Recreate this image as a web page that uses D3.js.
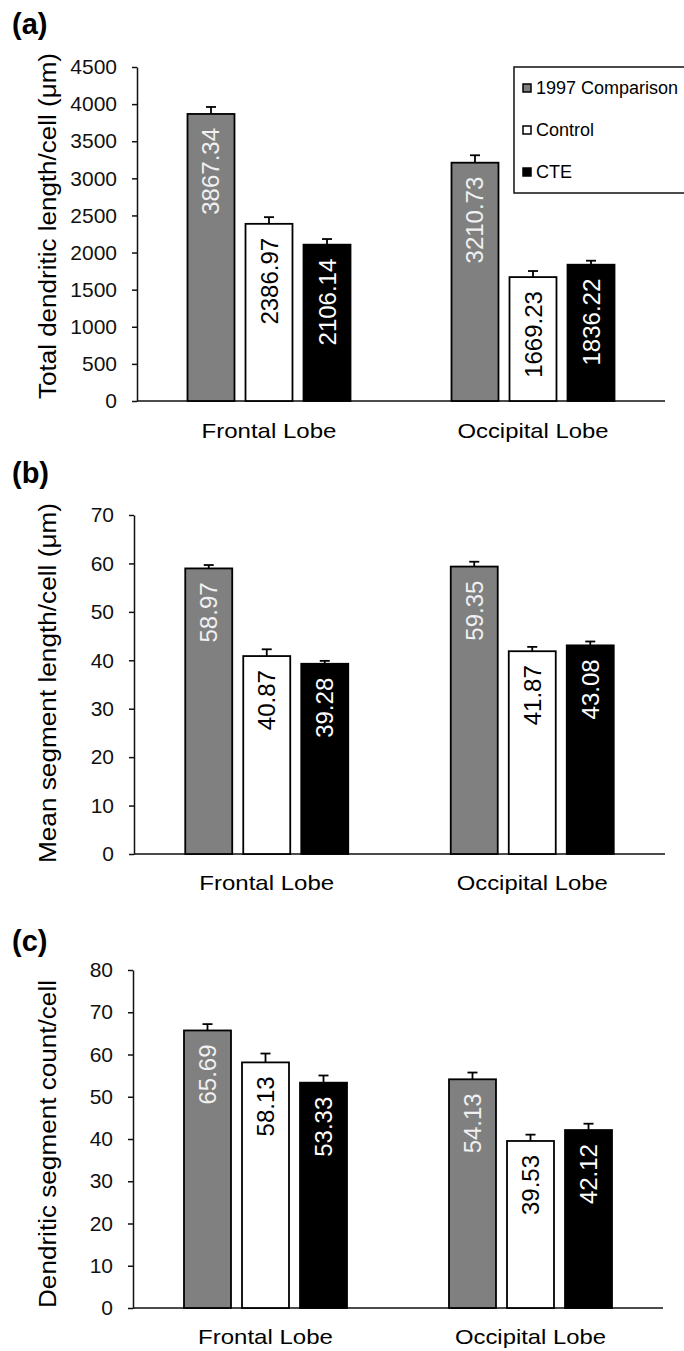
<!DOCTYPE html>
<html>
<head>
<meta charset="utf-8">
<script src="https://cdn.jsdelivr.net/npm/d3@7"></script>
<style>
  body { margin: 0; background: #fff; }
  svg text { font-family: "Liberation Sans", Arial, sans-serif; }
</style>
</head>
<body>
<div id="chart"></div>
<script>
// data
const categories = ["Frontal Lobe", "Occipital Lobe"];
const seriesNames = ["1997 Comparison", "Control", "CTE"];

const totalLength = [[3867.34, 2386.97, 2106.14], [3210.73, 1669.23, 1836.22]];
const totalLengthErr = [[94, 90, 76], [100, 82, 54]];
const meanSegment = [[58.97, 40.87, 39.28], [59.35, 41.87, 43.08]];
const meanSegmentErr = [[0.7, 1.4, 0.6], [1.0, 0.9, 0.8]];
const segmentCount = [[65.69, 58.13, 53.33], [54.13, 39.53, 42.12]];
const segmentCountErr = [[1.5, 2.1, 1.7], [1.6, 1.5, 1.5]];

const ticksA = [0, 500, 1000, 1500, 2000, 2500, 3000, 3500, 4000, 4500];
const ticksB = [0, 10, 20, 30, 40, 50, 60, 70];
const ticksC = [0, 10, 20, 30, 40, 50, 60, 70, 80];

const titles = ["Total dendritic length/cell (\u03bcm)", "Mean segment length/cell (\u03bcm)", "Dendritic segment count/cell"];
const panelLetters = ["(a)", "(b)", "(c)"];

// styles
const fills = ["#808080", "#ffffff", "#000000"];
const labelColors = ["#f0f0f0", "#000000", "#ffffff"];

const width = 684, height = 1351;

const svg = d3.select("#chart").append("svg")
  .attr("width", width)
  .attr("height", height);

// layout for each panel
const panels = [
  { values: totalLength, errs: totalLengthErr, ticks: ticksA, max: 4500,
    left: 137, right: 665, top: 67, bottom: 401, letterY: 34, catY: 438,
    titleLen: 346, titleMid: 226, catLen: [135, 151] },
  { values: meanSegment, errs: meanSegmentErr, ticks: ticksB, max: 70,
    left: 134, right: 665, top: 515, bottom: 854, letterY: 483, catY: 890,
    titleLen: 360, titleMid: 683, catLen: [135, 151] },
  { values: segmentCount, errs: segmentCountErr, ticks: ticksC, max: 80,
    left: 133, right: 663, top: 970, bottom: 1308, letterY: 951, catY: 1344,
    titleLen: 328, titleMid: 1144, catLen: [135, 151] }
];

panels.forEach((p, pi) => {
  const g = svg.append("g");

  const x0 = d3.scaleBand().domain(categories).range([p.left, p.right]);
  const x1 = d3.scaleBand().domain(seriesNames).range([-81.5, 81.5]).paddingInner(0.19);
  const y = d3.scaleLinear().domain([0, p.max]).range([p.bottom, p.top]);

  // panel letter
  g.append("text")
    .attr("x", 12).attr("y", p.letterY)
    .attr("font-size", 29).attr("font-weight", "bold")
    .text(panelLetters[pi]);

  // y axis title
  g.append("text")
    .attr("transform", `translate(56,${p.titleMid}) rotate(-90)`)
    .attr("text-anchor", "middle")
    .attr("font-size", 23)
    .attr("textLength", p.titleLen)
    .attr("lengthAdjust", "spacingAndGlyphs")
    .text(titles[pi]);

  // y axis
  const yAxis = g.append("g")
    .attr("transform", `translate(${p.left},0)`)
    .call(d3.axisLeft(y).tickValues(p.ticks).tickFormat(d3.format("d"))
      .tickSize(5).tickPadding(15).tickSizeOuter(0));
  yAxis.select(".domain").attr("stroke", "#111").attr("stroke-width", 1.5);
  yAxis.selectAll(".tick line").attr("stroke", "#111").attr("stroke-width", 1.5);
  yAxis.selectAll(".tick text")
    .attr("font-size", 21)
    .attr("fill", "#111")
    .attr("font-family", "Liberation Sans, Arial, sans-serif");

  // x axis baseline
  g.append("line")
    .attr("x1", p.left).attr("x2", p.right)
    .attr("y1", y(0)).attr("y2", y(0))
    .attr("stroke", "#111").attr("stroke-width", 1.5);

  // category labels
  categories.forEach((c, ci) => {
    g.append("text")
      .attr("x", x0(c) + x0.bandwidth() / 2)
      .attr("y", p.catY)
      .attr("text-anchor", "middle")
      .attr("font-size", 21)
      .attr("textLength", p.catLen[ci])
      .attr("lengthAdjust", "spacingAndGlyphs")
      .text(c);
  });

  // bars, error bars, value labels
  categories.forEach((c, ci) => {
    const cx = x0(c) + x0.bandwidth() / 2;
    seriesNames.forEach((s, si) => {
      const v = p.values[ci][si];
      const e = p.errs[ci][si];
      const bx = cx + x1(s);
      const bw = x1.bandwidth();
      const mid = bx + bw / 2;

      // error bar (upper only)
      g.append("line")
        .attr("x1", mid).attr("x2", mid)
        .attr("y1", y(v)).attr("y2", y(v + e))
        .attr("stroke", "#000").attr("stroke-width", 1.8);
      g.append("line")
        .attr("x1", mid - 5).attr("x2", mid + 5)
        .attr("y1", y(v + e)).attr("y2", y(v + e))
        .attr("stroke", "#000").attr("stroke-width", 1.8);

      g.append("rect")
        .attr("x", bx).attr("y", y(v))
        .attr("width", bw).attr("height", y(0) - y(v))
        .attr("fill", fills[si])
        .attr("stroke", "#000").attr("stroke-width", 1.8);

      g.append("text")
        .attr("transform", `translate(${mid},${y(v) + 14}) rotate(-90)`)
        .attr("text-anchor", "end")
        .attr("dominant-baseline", "central")
        .attr("font-size", 24)
        .attr("fill", labelColors[si])
        .text(v.toFixed(2));
    });
  });
});

// legend (top panel only), box runs off the right edge like the original
const legend = svg.append("g");
legend.append("rect")
  .attr("x", 514).attr("y", 67)
  .attr("width", 180).attr("height", 126)
  .attr("fill", "#fff")
  .attr("stroke", "#111").attr("stroke-width", 1.5);

const legendY = d3.scalePoint().domain(seriesNames).range([88, 172]);
seriesNames.forEach((s, si) => {
  legend.append("rect")
    .attr("x", 523).attr("y", legendY(s) - 4)
    .attr("width", 8).attr("height", 8)
    .attr("fill", fills[si])
    .attr("stroke", "#000").attr("stroke-width", 1.5);
  legend.append("text")
    .attr("x", 536).attr("y", legendY(s))
    .attr("dominant-baseline", "central")
    .attr("font-size", 18)
    .text(s);
});
</script>
</body>
</html>
